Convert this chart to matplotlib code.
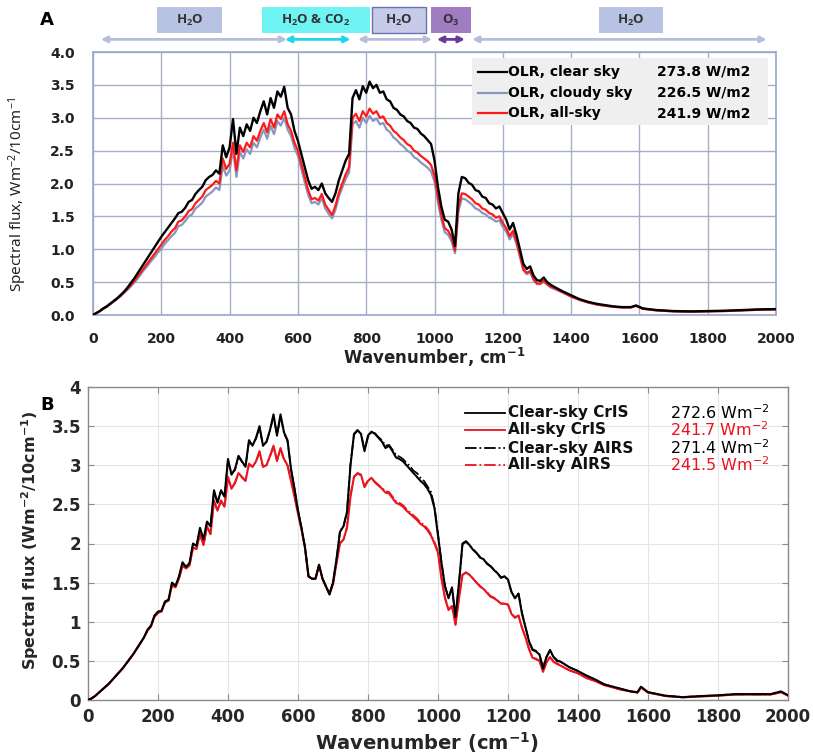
import matplotlib
matplotlib.use("Agg")
import matplotlib.pyplot as plt
from matplotlib.patches import Rectangle
from matplotlib.ticker import MultipleLocator, FuncFormatter

plt.rcParams['mathtext.default'] = 'regular'
plt.rcParams['font.family'] = ['DejaVu Sans']

# ======================
# DATOS - panel A (modelo)
# ======================
tail_a = [1375, 1400, 1425, 1450, 1475, 1500, 1525, 1550, 1575, 1590,
          1610, 1650, 1700, 1750, 1800, 1850, 1900, 1950, 2000]
wn_a = list(range(0, 1360, 10)) + tail_a

clear_a = [0.00, 0.03, 0.06, 0.10, 0.13, 0.17, 0.21, 0.25, 0.30, 0.35,
           0.41, 0.48, 0.55, 0.63, 0.71, 0.79, 0.87, 0.95, 1.03, 1.11,
           1.19, 1.26, 1.33, 1.40, 1.47, 1.55, 1.57, 1.63, 1.72, 1.75,
           1.84, 1.90, 1.95, 2.05, 2.10, 2.13, 2.20, 2.15, 2.58, 2.40,
           2.55, 2.98, 2.45, 2.85, 2.72, 2.90, 2.80, 3.00, 2.92, 3.10,
           3.25, 3.05, 3.30, 3.15, 3.40, 3.32, 3.47, 3.15, 3.05, 2.80,
           2.65, 2.45, 2.25, 2.05, 1.92, 1.95, 1.90, 2.00, 1.85, 1.78,
           1.72, 1.85, 2.05, 2.20, 2.35, 2.45, 3.30, 3.42, 3.28, 3.48,
           3.38, 3.55, 3.45, 3.50, 3.38, 3.40, 3.28, 3.25, 3.15, 3.12,
           3.05, 3.02, 2.95, 2.92, 2.85, 2.83, 2.76, 2.72, 2.66, 2.60,
           2.35, 1.95, 1.65, 1.45, 1.42, 1.30, 1.05, 1.85, 2.10, 2.08,
           2.01, 1.98, 1.90, 1.88, 1.80, 1.78, 1.70, 1.68, 1.62, 1.65,
           1.55, 1.45, 1.30, 1.40, 1.22, 1.00, 0.78, 0.70, 0.74, 0.60,
           0.53, 0.52, 0.57, 0.50, 0.46, 0.43,
           0.36, 0.30, 0.24, 0.20, 0.17, 0.15, 0.13, 0.12, 0.12, 0.145,
           0.10, 0.075, 0.06, 0.055, 0.06, 0.065, 0.075, 0.085, 0.09]

cloudy_a = [0.00, 0.03, 0.06, 0.09, 0.12, 0.16, 0.20, 0.24, 0.28, 0.33,
            0.38, 0.43, 0.49, 0.55, 0.62, 0.69, 0.75, 0.82, 0.88, 0.95,
            1.01, 1.08, 1.14, 1.20, 1.25, 1.35, 1.37, 1.43, 1.50, 1.53,
            1.62, 1.66, 1.71, 1.80, 1.84, 1.88, 1.94, 1.90, 2.27, 2.12,
            2.20, 2.52, 2.10, 2.48, 2.38, 2.52, 2.45, 2.62, 2.55, 2.70,
            2.82, 2.68, 2.88, 2.75, 2.95, 2.88, 3.00, 2.82, 2.72, 2.54,
            2.42, 2.22, 2.02, 1.83, 1.70, 1.72, 1.68, 1.78, 1.62, 1.54,
            1.47, 1.60, 1.80, 1.94, 2.07, 2.17, 2.90, 2.95, 2.85, 3.00,
            2.92, 3.03, 2.95, 2.99, 2.90, 2.92, 2.82, 2.78, 2.70, 2.66,
            2.60, 2.56, 2.50, 2.47, 2.40, 2.37, 2.32, 2.28, 2.24, 2.18,
            2.03, 1.72, 1.45, 1.26, 1.22, 1.12, 0.94, 1.58, 1.77, 1.76,
            1.72, 1.68, 1.62, 1.60, 1.55, 1.53, 1.48, 1.46, 1.42, 1.44,
            1.34, 1.27, 1.15, 1.23, 1.08, 0.89, 0.68, 0.62, 0.65, 0.53,
            0.47, 0.47, 0.51, 0.46, 0.42, 0.40,
            0.34, 0.28, 0.23, 0.19, 0.16, 0.14, 0.125, 0.115, 0.115, 0.14,
            0.095, 0.07, 0.055, 0.05, 0.055, 0.06, 0.07, 0.08, 0.085]

allsky_a = [0.00, 0.03, 0.06, 0.10, 0.13, 0.17, 0.21, 0.25, 0.29, 0.34,
            0.39, 0.45, 0.51, 0.58, 0.65, 0.72, 0.79, 0.86, 0.93, 1.00,
            1.07, 1.14, 1.20, 1.27, 1.32, 1.42, 1.44, 1.50, 1.58, 1.61,
            1.70, 1.75, 1.80, 1.90, 1.94, 1.98, 2.04, 2.00, 2.38, 2.22,
            2.30, 2.62, 2.20, 2.58, 2.48, 2.62, 2.55, 2.72, 2.65, 2.80,
            2.92, 2.78, 2.98, 2.85, 3.05, 2.98, 3.10, 2.90, 2.80, 2.62,
            2.50, 2.30, 2.10, 1.90, 1.76, 1.78, 1.74, 1.84, 1.68, 1.60,
            1.52, 1.66, 1.86, 2.00, 2.14, 2.25, 3.00, 3.06, 2.95, 3.10,
            3.02, 3.14, 3.06, 3.10, 3.00, 3.02, 2.92, 2.88, 2.80, 2.76,
            2.70, 2.66, 2.60, 2.57, 2.50, 2.47, 2.42, 2.38, 2.34, 2.28,
            2.12, 1.80, 1.52, 1.32, 1.28, 1.18, 0.98, 1.65, 1.85, 1.84,
            1.80, 1.76, 1.70, 1.68, 1.62, 1.60, 1.55, 1.53, 1.48, 1.50,
            1.40, 1.32, 1.20, 1.28, 1.12, 0.92, 0.70, 0.64, 0.67, 0.55,
            0.48, 0.48, 0.52, 0.47, 0.43, 0.41,
            0.35, 0.28, 0.23, 0.19, 0.16, 0.14, 0.125, 0.115, 0.115, 0.14,
            0.095, 0.07, 0.055, 0.05, 0.055, 0.06, 0.07, 0.08, 0.085]

labels_a = ["OLR, clear sky", "OLR, cloudy sky", "OLR, all-sky"]
totals_a = ["273.8 W/m2", "226.5 W/m2", "241.9 W/m2"]

# bandas de absorcion (cm-1)
band_names = ["H$_2$O", "H$_2$O & CO$_2$", "H$_2$O", "O$_3$", "H$_2$O"]
band_lo = [188, 494, 816, 991, 1483]
band_hi = [379, 810, 976, 1107, 1669]
band_fill = ["#b8c2e2", "#6ff3f3", "#c6cbe9", "#a07cc0", "#b8c2e2"]
band_edge = ["none", "none", "#6a72ac", "none", "none"]

arrow_lo = [23, 776, 1110, 562, 1007]
arrow_hi = [568, 993, 1973, 754, 1089]
arrow_col = ["#b6bedc", "#b6bedc", "#b6bedc", "#1fd6e6", "#6a3a9a"]

# ======================
# DATOS - panel B (CrIS / AIRS)
# ======================
tail_b = [1375, 1400, 1425, 1450, 1475, 1500, 1525, 1550, 1570, 1580,
          1600, 1650, 1700, 1750, 1800, 1850, 1900, 1950, 1980, 2000]
wn_b = list(range(0, 1360, 10)) + tail_b

clear_cris = [0.00, 0.02, 0.05, 0.09, 0.13, 0.17, 0.21, 0.26, 0.31, 0.36,
              0.41, 0.47, 0.53, 0.59, 0.66, 0.73, 0.80, 0.90, 0.95, 1.08,
              1.13, 1.14, 1.26, 1.28, 1.50, 1.46, 1.58, 1.76, 1.70, 1.75,
              2.00, 1.97, 2.20, 2.05, 2.28, 2.22, 2.68, 2.52, 2.68, 2.60,
              3.08, 2.88, 2.95, 3.12, 3.05, 2.98, 3.32, 3.25, 3.35, 3.50,
              3.25, 3.30, 3.45, 3.65, 3.38, 3.65, 3.42, 3.32, 2.95, 2.70,
              2.42, 2.20, 1.95, 1.58, 1.55, 1.55, 1.73, 1.55, 1.45, 1.35,
              1.50, 1.80, 2.15, 2.22, 2.40, 3.00, 3.40, 3.45, 3.40, 3.18,
              3.38, 3.43, 3.40, 3.35, 3.30, 3.22, 3.25, 3.18, 3.10, 3.08,
              3.05, 3.00, 2.95, 2.90, 2.85, 2.80, 2.76, 2.70, 2.62, 2.45,
              2.10, 1.75, 1.45, 1.30, 1.44, 1.06, 1.50, 2.00, 2.03, 1.98,
              1.92, 1.88, 1.82, 1.80, 1.74, 1.71, 1.66, 1.62, 1.56, 1.58,
              1.54, 1.38, 1.30, 1.36, 1.10, 0.93, 0.75, 0.64, 0.62, 0.58,
              0.40, 0.55, 0.64, 0.55, 0.50, 0.49,
              0.42, 0.37, 0.31, 0.26, 0.20, 0.17, 0.14, 0.11, 0.10, 0.17,
              0.10, 0.055, 0.035, 0.05, 0.06, 0.075, 0.075, 0.075, 0.11, 0.06]

all_cris = [0.00, 0.02, 0.05, 0.09, 0.13, 0.17, 0.21, 0.26, 0.31, 0.36,
            0.41, 0.47, 0.53, 0.59, 0.66, 0.73, 0.80, 0.89, 0.94, 1.07,
            1.12, 1.13, 1.25, 1.27, 1.47, 1.44, 1.55, 1.72, 1.68, 1.72,
            1.95, 1.93, 2.12, 1.98, 2.22, 2.12, 2.55, 2.42, 2.55, 2.47,
            2.85, 2.70, 2.78, 2.90, 2.85, 2.80, 3.02, 2.98, 3.05, 3.18,
            2.98, 3.00, 3.12, 3.25, 3.06, 3.22, 3.08, 3.00, 2.80, 2.60,
            2.38, 2.18, 1.94, 1.58, 1.55, 1.55, 1.72, 1.55, 1.45, 1.35,
            1.48, 1.75, 2.00, 2.05, 2.20, 2.60, 2.85, 2.90, 2.88, 2.72,
            2.80, 2.84, 2.78, 2.74, 2.70, 2.65, 2.64, 2.58, 2.52, 2.50,
            2.47, 2.42, 2.38, 2.34, 2.30, 2.25, 2.22, 2.17, 2.10, 2.00,
            1.88, 1.55, 1.30, 1.15, 1.20, 0.96, 1.30, 1.60, 1.63, 1.60,
            1.55, 1.50, 1.45, 1.42, 1.37, 1.32, 1.30, 1.27, 1.23, 1.23,
            1.22, 1.10, 1.05, 1.08, 0.92, 0.80, 0.65, 0.54, 0.52, 0.50,
            0.36, 0.48, 0.55, 0.49, 0.46, 0.44,
            0.38, 0.34, 0.28, 0.24, 0.19, 0.16, 0.13, 0.11, 0.095, 0.16,
            0.095, 0.05, 0.035, 0.045, 0.055, 0.07, 0.07, 0.07, 0.10, 0.055]

clear_airs = [0.00, 0.02, 0.05, 0.09, 0.13, 0.17, 0.21, 0.26, 0.31, 0.36,
              0.41, 0.47, 0.53, 0.59, 0.66, 0.73, 0.80, 0.89, 0.95, 1.07,
              1.12, 1.14, 1.25, 1.28, 1.49, 1.46, 1.57, 1.75, 1.70, 1.75,
              1.99, 1.97, 2.18, 2.05, 2.27, 2.22, 2.66, 2.53, 2.67, 2.60,
              3.06, 2.89, 2.94, 3.11, 3.04, 2.98, 3.31, 3.25, 3.34, 3.48,
              3.25, 3.30, 3.44, 3.63, 3.38, 3.63, 3.41, 3.31, 2.96, 2.70,
              2.43, 2.20, 1.96, 1.58, 1.55, 1.55, 1.72, 1.55, 1.45, 1.36,
              1.51, 1.80, 2.16, 2.22, 2.41, 3.02, 3.39, 3.44, 3.41, 3.19,
              3.36, 3.42, 3.41, 3.36, 3.32, 3.25, 3.26, 3.20, 3.13, 3.11,
              3.08, 3.03, 2.99, 2.93, 2.90, 2.84, 2.80, 2.73, 2.66, 2.47,
              2.13, 1.76, 1.46, 1.31, 1.43, 1.07, 1.49, 1.99, 2.02, 1.98,
              1.93, 1.88, 1.83, 1.80, 1.75, 1.71, 1.67, 1.62, 1.57, 1.58,
              1.53, 1.38, 1.31, 1.36, 1.12, 0.93, 0.76, 0.65, 0.63, 0.58,
              0.42, 0.55, 0.63, 0.55, 0.51, 0.49,
              0.42, 0.37, 0.31, 0.26, 0.20, 0.17, 0.14, 0.11, 0.10, 0.16,
              0.10, 0.055, 0.04, 0.05, 0.06, 0.075, 0.075, 0.075, 0.10, 0.065]

all_airs = [0.00, 0.02, 0.05, 0.09, 0.13, 0.17, 0.21, 0.26, 0.31, 0.36,
            0.41, 0.47, 0.53, 0.59, 0.66, 0.73, 0.80, 0.88, 0.94, 1.06,
            1.11, 1.13, 1.24, 1.27, 1.46, 1.44, 1.55, 1.71, 1.68, 1.72,
            1.94, 1.93, 2.11, 1.98, 2.21, 2.12, 2.53, 2.42, 2.54, 2.47,
            2.83, 2.70, 2.77, 2.89, 2.84, 2.80, 3.01, 2.98, 3.04, 3.16,
            2.98, 3.00, 3.11, 3.23, 3.05, 3.20, 3.07, 3.00, 2.81, 2.60,
            2.39, 2.18, 1.95, 1.58, 1.55, 1.55, 1.71, 1.55, 1.45, 1.36,
            1.49, 1.75, 2.01, 2.05, 2.22, 2.62, 2.86, 2.89, 2.87, 2.73,
            2.81, 2.83, 2.79, 2.75, 2.71, 2.67, 2.66, 2.60, 2.54, 2.52,
            2.49, 2.44, 2.40, 2.36, 2.32, 2.27, 2.24, 2.19, 2.12, 2.02,
            1.90, 1.56, 1.31, 1.16, 1.20, 0.97, 1.30, 1.60, 1.63, 1.60,
            1.56, 1.50, 1.46, 1.42, 1.38, 1.33, 1.31, 1.27, 1.24, 1.23,
            1.22, 1.10, 1.06, 1.08, 0.93, 0.80, 0.66, 0.54, 0.53, 0.50,
            0.37, 0.48, 0.55, 0.49, 0.47, 0.44,
            0.38, 0.34, 0.28, 0.24, 0.19, 0.16, 0.13, 0.11, 0.095, 0.155,
            0.095, 0.05, 0.035, 0.045, 0.055, 0.07, 0.07, 0.07, 0.095, 0.06]

labels_b = ["Clear-sky CrIS", "All-sky CrIS", "Clear-sky AIRS", "All-sky AIRS"]
totals_b = ["272.6 Wm$^{-2}$", "241.7 Wm$^{-2}$", "271.4 Wm$^{-2}$", "241.5 Wm$^{-2}$"]

# ======================
# FIGURA
# ======================
W, H = 813, 756
fig = plt.figure(figsize=(W / 100, H / 100), dpi=100)
axA = fig.add_axes([93 / W, 1 - 315 / H, 683 / W, 263 / H])
axB = fig.add_axes([88 / W, 1 - 700 / H, 700 / W, 313 / H])

RED_A = "#ff1a1a"
CLOUDY = "#8797bd"

# ---------- panel A ----------
axA.plot(wn_a, cloudy_a, color=CLOUDY, lw=1.6, zorder=3)
axA.plot(wn_a, allsky_a, color=RED_A, lw=1.6, zorder=4)
axA.plot(wn_a, clear_a, color="black", lw=1.7, zorder=5)

axA.set_xlim(0, 2000)
axA.set_ylim(0, 4)
axA.xaxis.set_major_locator(MultipleLocator(200))
axA.yaxis.set_major_locator(MultipleLocator(0.5))
axA.yaxis.set_major_formatter(FuncFormatter(lambda v, p: f"{v:.1f}"))
axA.grid(True, color="#a7aec6", lw=1.0)
axA.set_axisbelow(True)
for s in axA.spines.values():
    s.set_color("#9aa6cf")
    s.set_linewidth(1.2)
axA.tick_params(axis="both", length=0, labelsize=10)
axA.tick_params(axis="x", pad=12)
axA.tick_params(axis="y", pad=13)
for lab in axA.get_xticklabels() + axA.get_yticklabels():
    lab.set_fontweight("bold")
    lab.set_color("#222222")

axA.set_xlabel("Wavenumber, cm$^{-1}$", fontsize=12, fontweight="bold",
               color="#222222", va="center")
axA.xaxis.set_label_coords(0.5, -0.163)
axA.set_ylabel("Spectral flux, Wm$^{-2}$/10cm$^{-1}$", fontsize=11,
               family="Noto Sans", color="#222222", va="center")
axA.yaxis.set_label_coords(-0.11, 0.46)

# leyenda A (caja gris con valores)
axA.add_patch(Rectangle((0.555, 0.722), 0.433, 0.255, transform=axA.transAxes,
                        facecolor="#efefef", edgecolor="none", zorder=6))
rows_a = [0.925, 0.845, 0.768]
cols_a = ["black", CLOUDY, RED_A]
for yy, lab, tot, c in zip(rows_a, labels_a, totals_a, cols_a):
    axA.plot([0.564, 0.606], [yy, yy], transform=axA.transAxes, color=c,
             lw=1.6, zorder=7)
    axA.text(0.608, yy, lab, transform=axA.transAxes, fontsize=10,
             fontweight="bold", va="center", zorder=7)
    axA.text(0.826, yy, tot, transform=axA.transAxes, fontsize=10,
             fontweight="bold", va="center", zorder=7)

# bandas encima del panel A
trA = axA.get_xaxis_transform()
for name, lo, hi, fc, ec in zip(band_names, band_lo, band_hi, band_fill, band_edge):
    axA.add_patch(Rectangle((lo, 1.072), hi - lo, 0.099, transform=trA,
                            facecolor=fc, edgecolor=ec, lw=1.0, clip_on=False))
    axA.text((lo + hi) / 2, 1.121, name, transform=trA, ha="center",
             va="center", fontsize=9.5, fontweight="bold", family="Open Sans",
             color="#333333", clip_on=False)
for lo, hi, c in zip(arrow_lo, arrow_hi, arrow_col):
    axA.annotate("", xy=(hi, 1.048), xytext=(lo, 1.048), xycoords=trA,
                 textcoords=trA, annotation_clip=False,
                 arrowprops=dict(arrowstyle="<|-|>", color=c, lw=2.0,
                                 mutation_scale=9, shrinkA=0, shrinkB=0))

fig.text(40 / W, 1 - 20 / H, "A", fontsize=13, fontweight="bold", va="center")

# ---------- panel B ----------
RED_B = "#e8141e"
axB.plot(wn_b, all_airs, color=RED_B, lw=1.2, ls="-.", zorder=3)
axB.plot(wn_b, clear_airs, color="black", lw=1.2, ls="-.", zorder=3)
axB.plot(wn_b, all_cris, color=RED_B, lw=1.5, zorder=4)
axB.plot(wn_b, clear_cris, color="black", lw=1.5, zorder=5)

axB.set_xlim(0, 2000)
axB.set_ylim(0, 4)
axB.xaxis.set_major_locator(MultipleLocator(200))
axB.yaxis.set_major_locator(MultipleLocator(0.5))
axB.yaxis.set_major_formatter(FuncFormatter(lambda v, p: f"{v:g}"))
axB.grid(True, color="#e4e4e4", lw=0.8)
axB.set_axisbelow(True)
for s in axB.spines.values():
    s.set_color("#8a8a8a")
    s.set_linewidth(1.0)
axB.tick_params(axis="both", direction="in", length=4, color="#8a8a8a",
                top=True, right=True, labelsize=12)
axB.tick_params(axis="x", pad=6)
axB.tick_params(axis="y", pad=5)
for lab in axB.get_xticklabels() + axB.get_yticklabels():
    lab.set_fontweight("bold")
    lab.set_color("#262626")

axB.set_xlabel("Wavenumber (cm$^{-1}$)", fontsize=14, fontweight="bold",
               color="#262626", va="center")
axB.xaxis.set_label_coords(0.484, -0.137)
axB.set_ylabel("Spectral flux (Wm$^{-2}$/10cm$^{-1}$)", fontsize=11.5,
               fontweight="bold", color="#262626", va="center")
axB.yaxis.set_label_coords(-0.083, 0.511)

rows_b = [0.917, 0.863, 0.805, 0.751]
line_c = ["black", RED_B, "black", RED_B]
line_s = ["-", "-", "-.", "-."]
val_c = ["black", RED_B, "black", RED_B]
for yy, lab, tot, c, ls, vc in zip(rows_b, labels_b, totals_b, line_c, line_s, val_c):
    axB.plot([0.539, 0.596], [yy, yy], transform=axB.transAxes, color=c,
             lw=1.3, ls=ls, zorder=7)
    axB.text(0.600, yy, lab, transform=axB.transAxes, fontsize=11,
             fontweight="bold", va="center", color="#111111", zorder=7)
    axB.text(0.832, yy, tot, transform=axB.transAxes, fontsize=11.5,
             va="center", color=vc, zorder=7)

fig.text(40 / W, 1 - 405 / H, "B", fontsize=13, fontweight="bold", va="center")

fig.savefig("out.png", dpi=100)
